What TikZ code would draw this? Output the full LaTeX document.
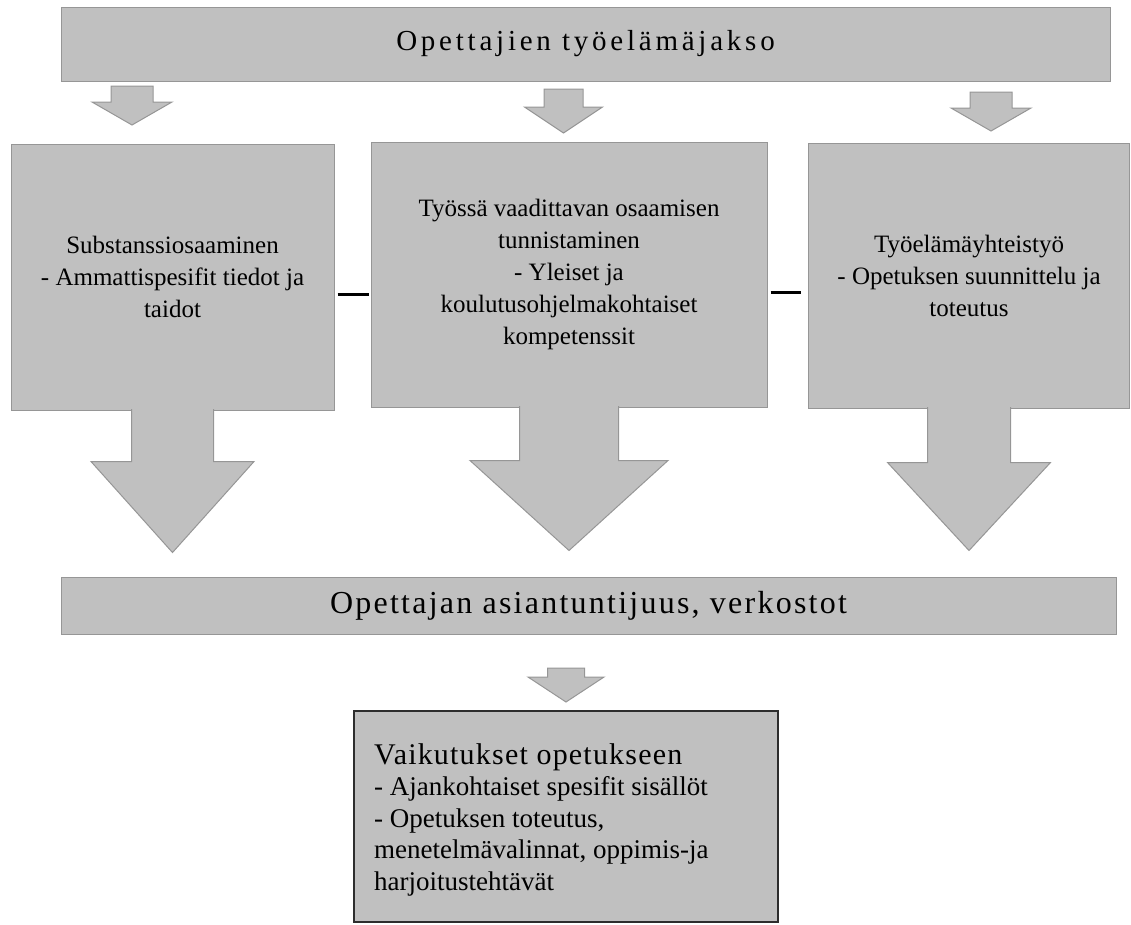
\documentclass[tikz,border=0pt]{standalone}
\usepackage{fontspec}
\setmainfont{Liberation Serif}
\newfontfamily\titlefont[LetterSpace=13]{Liberation Serif}
\newfontfamily\barfont[LetterSpace=7]{Liberation Serif}
\newfontfamily\headfont[LetterSpace=4]{Liberation Serif}
\usetikzlibrary{calc}
\definecolor{boxfill}{RGB}{192,192,192}
\definecolor{boxline}{RGB}{150,150,150}
\definecolor{darkline}{RGB}{45,45,45}
% big block arrow hanging from a node anchor: #1 anchor, #2 shaft half width, #3 head half width, #4 shaft length, #5 head length
\newcommand\BlockArrow[5]{%
  \filldraw[arrowsty] ($(#1)+(-#2,-1.5)$) -- ($(#1)+(-#2,#4)$) -- ($(#1)+(-#3,#4)$)
    -- ($(#1)+(0,#4+#5)$) -- ($(#1)+(#3,#4)$) -- ($(#1)+(#2,#4)$) -- ($(#1)+(#2,-1.5)$);}
% small block arrow: #1 x centre, #2 top y, #3 shaft half, #4 head half, #5 shaft length, #6 head length
\newcommand\SmallArrow[6]{%
  \filldraw[arrowsty] (#1-#3,#2) -- (#1+#3,#2) -- (#1+#3,#2+#5) -- (#1+#4,#2+#5)
    -- (#1,#2+#5+#6) -- (#1-#4,#2+#5) -- (#1-#3,#2+#5) -- cycle;}
\begin{document}
\begin{tikzpicture}[x=1pt,y=-1pt,
  box/.style={draw=boxline, fill=boxfill, line width=1pt, inner sep=0pt, align=center,
    font=\fontsize{25}{32}\selectfont},
  arrowsty/.style={draw=boxline, fill=boxfill, line width=1pt, line join=miter},
  conn/.style={draw=black, line width=3pt}]
\useasboundingbox (0,0) rectangle (1131,924);

% header
\node[box, minimum width=1049pt, minimum height=74pt] (top) at (585.5,44)
  {\fontsize{29}{32}\titlefont Opettajien työelämäjakso};

% small arrows below header
\SmallArrow{132}{86}{21}{40}{16}{23}
\SmallArrow{563.5}{89}{19.5}{39}{18}{26}
\SmallArrow{991}{92}{21}{40}{16}{23}

% three boxes
\node[box, minimum width=323pt, minimum height=266pt] (L) at (172.5,277)
  {Substanssiosaaminen\\- Ammattispesifit tiedot ja\\taidot};
\node[box, minimum width=396pt, minimum height=265pt] (M) at (569,274.5)
  {Työssä vaadittavan osaamisen\\tunnistaminen\\- Yleiset ja\\koulutusohjelmakohtaiset\\kompetenssit};
\node[box, minimum width=321pt, minimum height=265pt] (R) at (969,275.5)
  {Työelämäyhteistyö\\- Opetuksen suunnittelu ja\\toteutus};

% big arrows
\BlockArrow{L.south}{41}{81.5}{51}{91}
\BlockArrow{M.south}{49.5}{99}{53}{90}
\BlockArrow{R.south}{41.5}{81.5}{54}{88}

% connectors between boxes
\draw[conn] ($(L.east |- 0,294)+(3,0)$) -- ($(M.west |- 0,294)+(-2,0)$);
\draw[conn] ($(M.east |- 0,292)+(3,0)$) -- ($(R.west |- 0,292)+(-7,0)$);

% bar
\node[box, minimum width=1055pt, minimum height=57pt] (bar) at (588.5,605.5)
  {\fontsize{32}{34}\barfont Opettajan asiantuntijuus, verkostot};

% small arrow below bar
\SmallArrow{566}{668}{18.5}{38}{9}{25}

% result box
\node[box, draw=darkline, line width=2pt, minimum width=424pt, minimum height=211pt] (res) at (566,816.5) {};
\node[anchor=north west, inner sep=0pt, align=left, font=\fontsize{27}{31.5}\selectfont] (restext) at (374,743)
  {{\fontsize{30}{31.5}\headfont Vaikutukset opetukseen}\\- Ajankohtaiset spesifit sisällöt\\- Opetuksen toteutus,\\menetelmävalinnat, oppimis-ja\\harjoitustehtävät};
\end{tikzpicture}
\end{document}
